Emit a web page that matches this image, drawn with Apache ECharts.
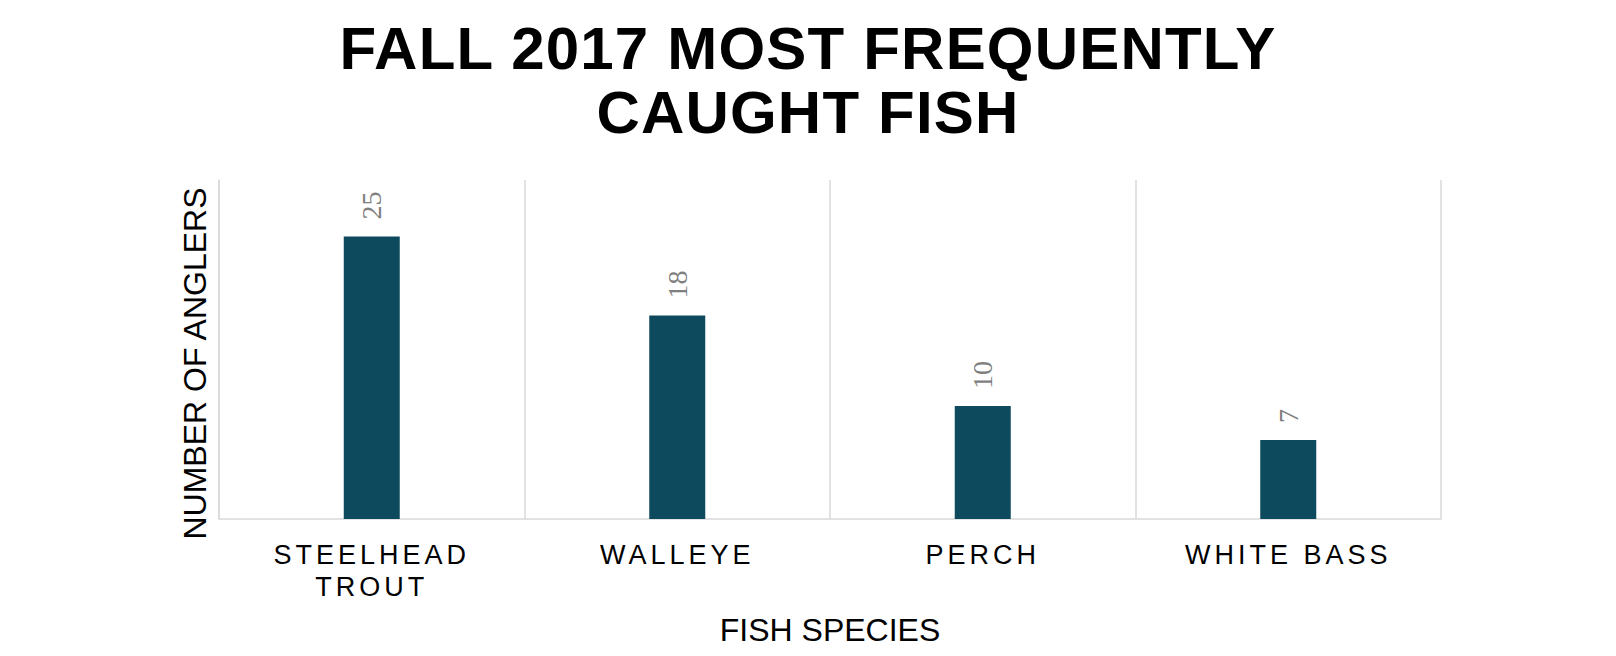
<!DOCTYPE html>
<html>
<head>
<meta charset="utf-8">
<script src="https://cdn.jsdelivr.net/npm/echarts@6/dist/echarts.min.js"></script>
<style>
  html, body { margin: 0; padding: 0; background: #ffffff; }
  #chart { width: 1616px; height: 656px; }
</style>
</head>
<body>
<div id="chart"></div>
<script>
const titleText = 'FALL 2017 MOST FREQUENTLY\nCAUGHT FISH';
const categories = ['STEELHEAD\nTROUT', 'WALLEYE', 'PERCH', 'WHITE BASS'];
const anglers = [25, 18, 10, 7];
const xAxisName = 'FISH SPECIES';
const yAxisName = 'NUMBER OF ANGLERS';

const chart = echarts.init(document.getElementById('chart'), null, { renderer: 'svg' });

const gridColor = '#d9d9d9';

chart.setOption({
  animation: false,
  backgroundColor: '#ffffff',
  title: {
    text: titleText,
    left: 'center',
    top: 16,
    padding: 0,
    textStyle: {
      fontFamily: '"Liberation Sans", Arial, sans-serif',
      fontWeight: 'bold',
      fontSize: 60,
      lineHeight: 64,
      color: '#000000'
    }
  },
  grid: {
    left: 219,
    right: 175,
    top: 180,
    bottom: 137,
    containLabel: false
  },
  xAxis: {
    type: 'category',
    data: categories,
    name: xAxisName,
    nameLocation: 'middle',
    nameGap: 95,
    nameTextStyle: {
      fontFamily: '"Liberation Sans", Arial, sans-serif',
      fontSize: 32,
      color: '#000000'
    },
    axisLine: { show: true, lineStyle: { color: gridColor, width: 1.5 } },
    axisTick: { show: false },
    splitLine: { show: true, lineStyle: { color: gridColor, width: 1.5 } },
    axisLabel: {
      margin: 20,
      fontFamily: '"Liberation Sans", Arial, sans-serif',
      fontSize: 27,
      lineHeight: 32,
      color: '#000000',
      interval: 0
    }
  },
  yAxis: {
    type: 'value',
    min: 0,
    max: 30,
    interval: 5,
    name: yAxisName,
    nameLocation: 'middle',
    nameGap: 8,
    nameTextStyle: {
      fontFamily: '"Liberation Sans", Arial, sans-serif',
      fontSize: 32,
      color: '#000000',
      padding: [0, 28, 0, 0]
    },
    axisLine: { show: true, lineStyle: { color: gridColor, width: 1.5 } },
    axisTick: { show: false },
    axisLabel: { show: false },
    splitLine: { show: false }
  },
  series: [{
    type: 'bar',
    data: anglers,
    barWidth: 56,
    itemStyle: { color: '#0e4a5e' },
    label: {
      show: true,
      position: 'top',
      distance: 17,
      rotate: 90,
      align: 'left',
      verticalAlign: 'middle',
      fontFamily: '"Liberation Serif", "Times New Roman", serif',
      fontSize: 28,
      color: '#7f7f7f'
    }
  }]
});

// letter spacing for category labels and title (style only)
const spaced = new Set();
categories.forEach(c => c.split('\n').forEach(p => spaced.add(p)));
const titleLines = new Set(titleText.split('\n'));
document.querySelectorAll('#chart svg text').forEach(t => {
  const s = t.textContent.trim();
  if (spaced.has(s)) {
    t.setAttribute('letter-spacing', '4px');
  } else if (titleLines.has(s)) {
    t.setAttribute('letter-spacing', '1.2px');
  }
});
</script>
</body>
</html>
